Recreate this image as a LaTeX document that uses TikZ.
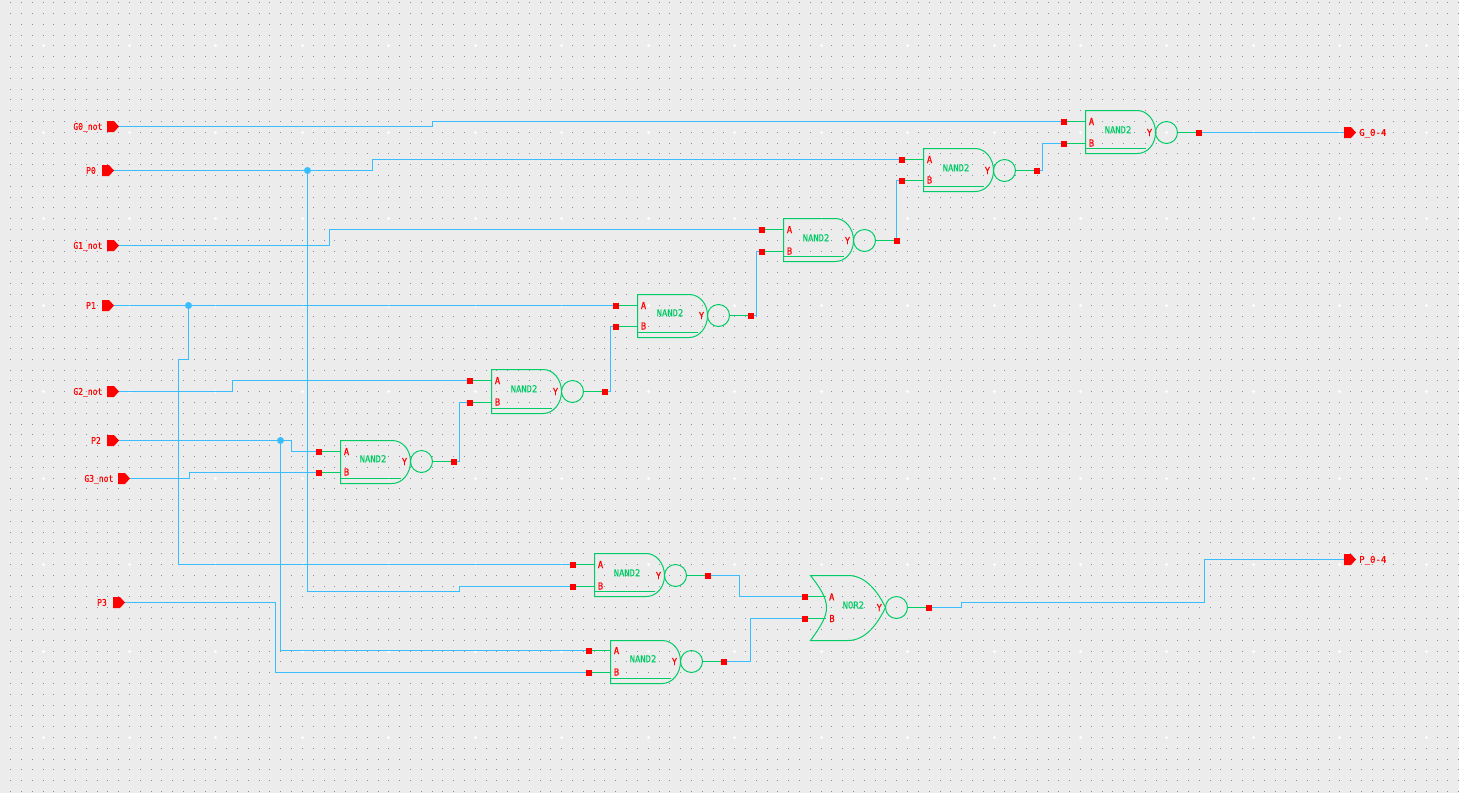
\documentclass[tikz,border=0pt]{standalone}
\usepackage{fontspec}
\setmainfont{DejaVu Sans Mono}
\newfontfamily\inlabfont[FakeStretch=0.87,FakeBold=0.25]{DejaVu Sans Mono}
\newfontfamily\outlabfont[FakeStretch=0.98,FakeBold=0.25]{DejaVu Sans Mono}
\newfontfamily\gatefont[FakeStretch=0.92,FakeBold=0.25]{DejaVu Sans Mono}
\definecolor{bgc}{HTML}{ECECEC}
\definecolor{wirec}{HTML}{38BDFF}
\definecolor{gatec}{HTML}{00CC66}
\definecolor{redc}{HTML}{FF0000}
\tikzset{
  wire/.style={draw=wirec,line width=1pt},
  gateline/.style={draw=gatec,line width=1pt},
  pinsq/.style={draw=none,fill=redc,minimum size=6pt,inner sep=0pt,outer sep=0pt,rectangle},
  junct/.style={draw=none,fill=wirec,circle,minimum size=7pt,inner sep=0pt,outer sep=0pt},
  inlab/.style={text=redc,font=\inlabfont\fontsize{9.2}{9.2}\selectfont,inner sep=0pt},
  outlab/.style={text=redc,font=\outlabfont\fontsize{9.2}{9.2}\selectfont,inner sep=0pt},
  gatelab/.style={text=gatec,font=\gatefont\fontsize{9.6}{9.6}\selectfont,inner sep=0pt},
  portlab/.style={text=redc,font=\gatefont\fontsize{9.6}{9.6}\selectfont,inner sep=0pt}
}
\makeatletter
\newcommand{\griddots}{%
  \pgfsys@invoke{q 0.99626 0 0 -0.99626 0.1 -0.1 cm 0.549 0.549 0.667 rg }%
  \foreach \r in {0,...,73}{%
    \edef\ry{\the\numexpr(2600+10807*\r-500)/1000\relax}%
    \gdef\rowd{}%
    \foreach \c in {0,...,134}{%
      \xdef\rowd{\rowd\the\numexpr(10600+10807*\c-500)/1000\relax\space\ry\space .8 .8 re }%
    }%
    \pgfsys@invoke{\rowd f }%
  }%
  \pgfsys@invoke{Q }%
}
\makeatother
% #1 name, #2 left, #3 top, #4 y of A, #5 y of B, #6 bottom, #7 y of output
\newcommand{\nandgate}[7]{%
  \pgfmathsetmacro{\gx}{#2}\pgfmathsetmacro{\gt}{#3}\pgfmathsetmacro{\gb}{#6}\pgfmathsetmacro{\gc}{#7}%
  \draw[gateline] (\gx,\gt) -- (\gx+51.7,\gt) .. controls (\gx+61.8,\gt) and (\gx+70,\gc-12.1) .. (\gx+70,\gc)
     .. controls (\gx+70,\gc+12.1) and (\gx+61.8,\gb) .. (\gx+51.7,\gb) -- (\gx,\gb) -- cycle;
  \draw[gateline] (\gx,\gb-5) -- (\gx+60,\gb-5);
  \node[gateline,circle,minimum size=22pt,inner sep=0pt,outer sep=0pt] (#1c) at (\gx+81,\gc) {};
  \node[pinsq] (#1a) at (\gx-21.5,#4) {};
  \node[pinsq] (#1b) at (\gx-21.5,#5) {};
  \node[pinsq] (#1y) at (\gx+113,\gc) {};
  \draw[gateline] (#1a) -- (\gx,#4);
  \draw[gateline] (#1b) -- (\gx,#5);
  \draw[gateline] (#1c) -- (#1y);
  \node[portlab] (#1la) at (\gx+6,#4) {A};
  \node[portlab] (#1lb) at (\gx+6,#5-0.5) {B};
  \node[portlab] (#1ly) at (\gx+64,\gc) {Y};
  \node[gatelab] (#1n) at (\gx+32.5,\gc-2.8) {NAND2};
}
% #1 name, #2 label, #3 left of the pin, #4 y, #5 label gap
\newcommand{\inport}[5]{%
  \fill[redc] (#3,#4-5.5) -- (#3+7,#4-5.5) -- (#3+12,#4) -- (#3+7,#4+5.5) -- (#3,#4+5.5) -- cycle;
  \coordinate (#1) at (#3+12,#4);
  \node[inlab,anchor=base east] (#1l) at (#3-#5,#4+3.3) {#2};
}
\newcommand{\outport}[4]{%
  \fill[redc] (#3,#4-5.5) -- (#3+7,#4-5.5) -- (#3+12,#4) -- (#3+7,#4+5.5) -- (#3,#4+5.5) -- cycle;
  \coordinate (#1) at (#3,#4);
  \node[outlab,anchor=base west] (#1l) at (#3+15,#4+3.3) {#2};
}
\begin{document}
\begin{tikzpicture}[x=1pt,y=-1pt]
\useasboundingbox (0,0) rectangle (1459,793);
\fill[bgc] (0,0) rectangle (1459,793);
% grid
\griddots
\foreach \i in {0,...,16}{\foreach \j in {0,...,8}{
  \pgfmathtruncatemacro{\px}{10.6+10.807*(3+8*\i)}
  \pgfmathtruncatemacro{\py}{2.6+10.807*(4+8*\j)}
  \fill[white] (\px-1,\py) rectangle ++(3,1) (\px,\py-1) rectangle ++(1,3);
}}
% gates
\nandgate{ga}{1085.5}{110.5}{121.5}{143.5}{153.5}{132.5}
\nandgate{gb}{923.5}{148.5}{159.5}{180.5}{191.5}{170.5}
\nandgate{gc}{783.5}{218.5}{229.5}{251.5}{261.5}{240.5}
\nandgate{gd}{637.5}{294.5}{305.5}{326.5}{337.5}{315.5}
\nandgate{ge}{491.5}{369.5}{380.5}{402.5}{413.5}{391.5}
\nandgate{gf}{340.5}{440.5}{451.5}{472.5}{483.5}{461.5}
\nandgate{gg}{594.5}{553.5}{564.5}{586.5}{596.5}{575.5}
\nandgate{gh}{610.5}{640.5}{650.5}{672.5}{683.5}{661.5}
% NOR
\draw[gateline] (810.5,575.5) -- (848,575.5) .. controls (866,575.5) and (878,592) .. (885.5,607.5)
  .. controls (878,623) and (866,640.5) .. (848,640.5) -- (810.5,640.5)
  .. controls (821,626) and (826.5,617) .. (826.5,607.8)
  .. controls (826.5,598) and (821,589) .. (810.5,575.5) -- cycle;
\node[gateline,circle,minimum size=22pt,inner sep=0pt,outer sep=0pt] (norc) at (896.5,607.5) {};
\node[pinsq] (nora) at (804.5,596.5) {};
\node[pinsq] (norb) at (804.5,618.5) {};
\node[pinsq] (nory) at (929,607.5) {};
\coordinate (noria) at (825.7,596.5);
\coordinate (norib) at (825.7,618.5);
\draw[gateline] (nora) -- (noria);
\draw[gateline] (norb) -- (norib);
\draw[gateline] (norc) -- (nory);
\node[portlab] (norla) at (831.7,596.8) {A};
\node[portlab] (norlb) at (832,618.5) {B};
\node[portlab] (norly) at (879.3,607.5) {Y};
\node[gatelab] (norn) at (853.3,605) {NOR2};
% ports
\inport{pga}{G0\_not}{107}{126.5}{4.5}
\inport{ppa}{P0}{102}{170.5}{6}
\inport{pgb}{G1\_not}{107}{245.5}{4.5}
\inport{ppb}{P1}{102}{305.5}{6}
\inport{pgc}{G2\_not}{107}{391.5}{4.5}
\inport{ppc}{P2}{107}{440.5}{6}
\inport{pgd}{G3\_not}{118}{478.5}{4.5}
\inport{ppd}{P3}{113}{602.5}{6}
\outport{oG}{G\_0-4}{1344}{132.5}
\outport{oP}{P\_0-4}{1344}{559.5}
% junctions
\node[junct] (ja) at (307.5,170.5) {};
\node[junct] (jb) at (188.5,305.5) {};
\node[junct] (jc) at (280.5,440.5) {};
% wires
\draw[wire] (pga) -| (432.5,121.5) -- (gaa);
\draw[wire] (ppa) -- (ja);
\draw[wire] (ja) -| (372.5,159.5) -- (gba);
\draw[wire] (ja) |- (459.5,591.5) |- (ggb);
\draw[wire] (pgb) -| (329.5,229.5) -- (gca);
\draw[wire] (ppb) -- (jb);
\draw[wire] (jb) -- (gda);
\draw[wire] (jb) |- (178.5,359.5) |- (gga);
\draw[wire] (pgc) -| (232.5,380.5) -- (gea);
\draw[wire] (ppc) -- (jc);
\draw[wire] (jc) -| (291.5,451.5) -- (gfa);
\draw[wire] (jc) |- (gha);
\draw[wire] (pgd) -| (189.5,472.5) -- (gfb);
\draw[wire] (ppd) -| (275.5,672.5) -- (ghb);
\draw[wire] (gfy) -| (459.5,402.5) -- (geb);
\draw[wire] (gey) -| (610.5,326.5) -- (gdb);
\draw[wire] (gdy) -| (756.5,251.5) -- (gcb);
\draw[wire] (gcy) |- (gbb);
\draw[wire] (gby) -| (1042.5,143.5) -- (gab);
\draw[wire] (gay) -- (oG);
\draw[wire] (ggy) -| (739.5,596.5) -- (nora);
\draw[wire] (ghy) -| (750.5,618.5) -- (norb);
\draw[wire] (nory) -| (961.5,602.5) -| (1204.5,559.5) -- (oP);
\end{tikzpicture}
\end{document}
